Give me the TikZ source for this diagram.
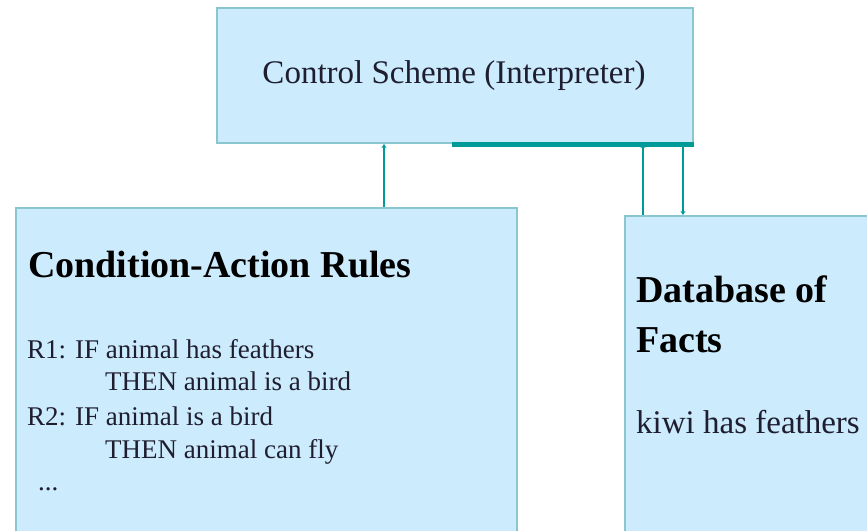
\documentclass[tikz,border=0pt]{standalone}
\usepackage{fontspec}
\setmainfont{Liberation Serif}
\usetikzlibrary{arrows.meta}
\definecolor{boxfill}{HTML}{CCEBFC}
\definecolor{boxline}{HTML}{8AC6D0}
\definecolor{teal2}{HTML}{009B98}
\definecolor{txt}{HTML}{1E1E30}
\tikzset{
  box/.style={draw=boxline, line width=2pt, fill=boxfill, rectangle, inner sep=0pt},
  conn/.style={draw=teal2, line width=1.6pt},
  tip/.style={-{Stealth[length=4pt,width=5pt]}},
  lbl/.style={inner sep=0pt, anchor=base west, text=txt},
}
\begin{document}
\begin{tikzpicture}[x=1pt,y=-1pt]
\useasboundingbox (0,0) rectangle (867,530);
\clip (0,0) rectangle (867,530);
% boxes
\node[box, minimum width=476pt, minimum height=135pt] (ctrl) at (455,75.5) {};
\node[box, minimum width=501pt, minimum height=332pt] (rules) at (266.5,374) {};
\node[box, minimum width=260pt, minimum height=324pt] (facts) at (755,378) {};
% thick bottom edge of control box
\coordinate (t1) at (452,0);
\draw[draw=teal2, line width=5pt] (ctrl.south -| t1) -- (ctrl.south east);
% connectors
\coordinate (a1) at (384,0);
\coordinate (a2) at (643,0);
\coordinate (a3) at (683,0);
\draw[conn, tip] (rules.north -| a1) -- (ctrl.south -| a1);
\draw[conn, tip] (facts.north -| a2) -- (ctrl.south -| a2);
\draw[conn, tip] (ctrl.south -| a3) -- (facts.north -| a3);
% texts
\node[inner sep=0pt, anchor=base, text=txt, font=\fontsize{33}{40}\selectfont] (ctrltxt) at (454,83) {Control Scheme (Interpreter)};
\node[lbl, text=black, font=\fontsize{38}{46}\selectfont\bfseries] (rtitle) at (28,277) {Condition-Action Rules};
\node[lbl, font=\fontsize{27}{33}\selectfont] (r1) at (27,358) {R1: IF animal has feathers};
\node[lbl, font=\fontsize{27}{33}\selectfont] (r1t) at (105,390) {THEN animal is a bird};
\node[lbl, font=\fontsize{27}{33}\selectfont] (r2) at (27,425) {R2: IF animal is a bird};
\node[lbl, font=\fontsize{27}{33}\selectfont] (r2t) at (105,458) {THEN animal can fly};
\node[lbl, font=\fontsize{27}{33}\selectfont] (dots) at (38,490) {...};
\node[lbl, text=black, font=\fontsize{38}{46}\selectfont\bfseries] (ftitle1) at (636,302) {Database of};
\node[lbl, text=black, font=\fontsize{38}{46}\selectfont\bfseries] (ftitle2) at (636,352) {Facts};
\node[lbl, font=\fontsize{33}{40}\selectfont] (kiwi) at (636,433) {kiwi has feathers};
\end{tikzpicture}
\end{document}
